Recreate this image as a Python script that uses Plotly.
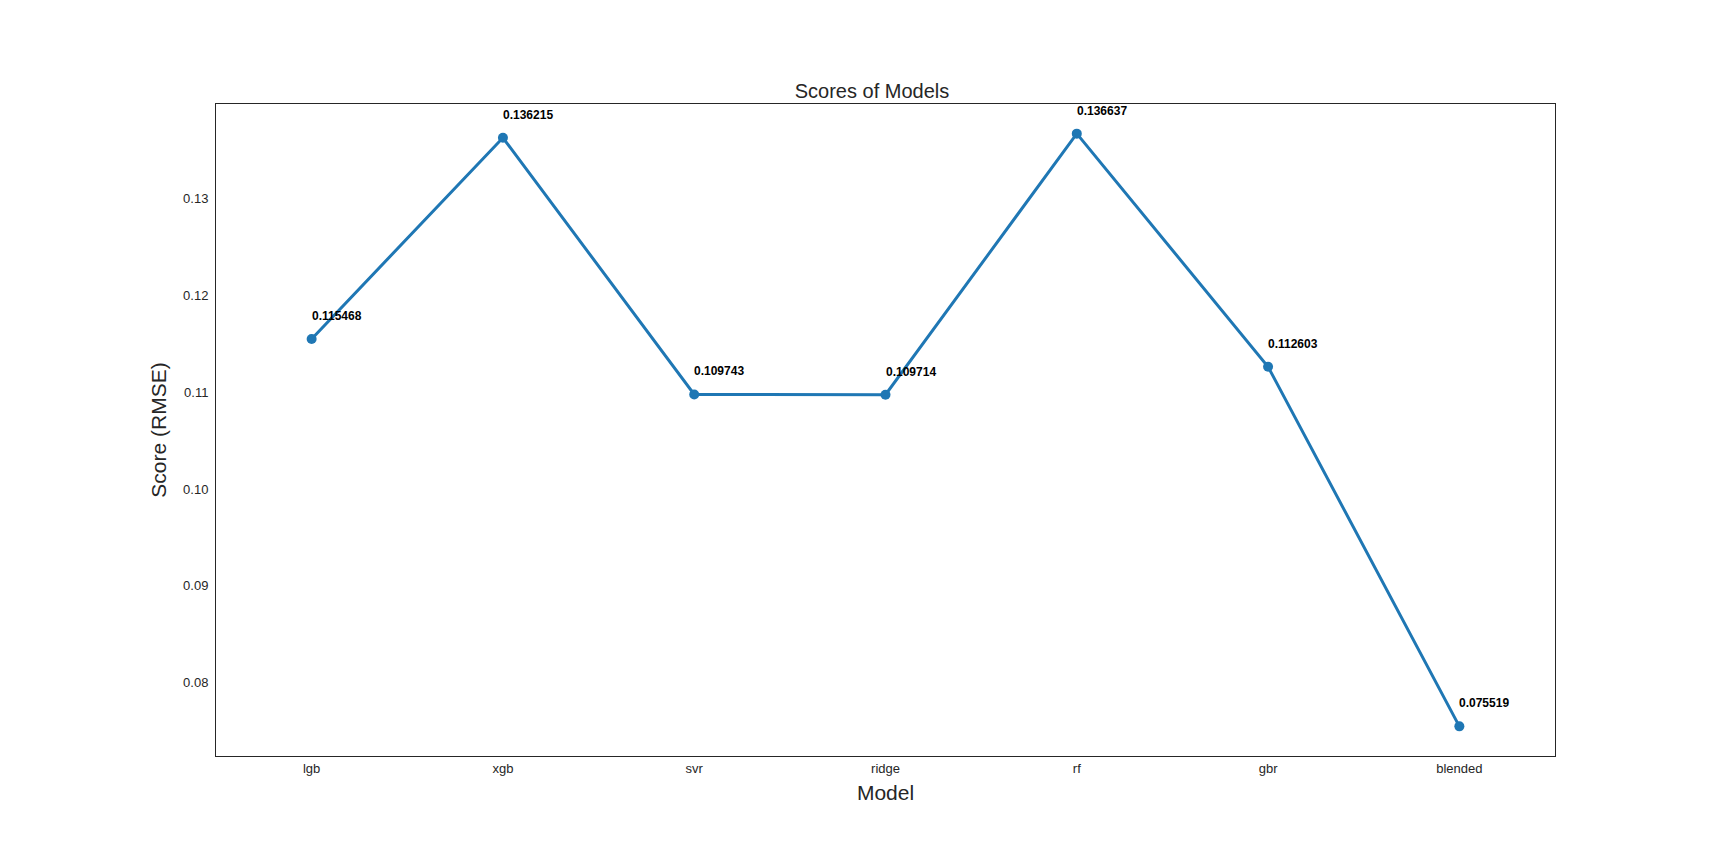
import plotly.graph_objects as go

models = ['lgb', 'xgb', 'svr', 'ridge', 'rf', 'gbr', 'blended']
scores = [0.115468, 0.136215, 0.109743, 0.109714, 0.136637, 0.112603, 0.075519]
y_ticks = [0.08, 0.09, 0.10, 0.11, 0.12, 0.13]

font_family = 'Liberation Sans, Arial, sans-serif'
dark = '#262626'

fig = go.Figure(
    go.Scatter(x=models, y=scores, mode='lines+markers',
               line=dict(color='#1f77b4', width=3),
               marker=dict(color='#1f77b4', size=10),
               showlegend=False)
)

# value labels above each point
for m, s in zip(models, scores):
    fig.add_annotation(x=m, y=s, text='<b>%.6f</b>' % s, showarrow=False,
                       xanchor='left', yanchor='middle', xshift=-2, yshift=23,
                       font=dict(family=font_family, size=12, color='black'))

fig.update_layout(
    width=1728, height=864,
    paper_bgcolor='white', plot_bgcolor='white',
    margin=dict(l=208, r=181, t=96, b=116),
    font=dict(family=font_family, color=dark),
    title=dict(text='Scores of Models', x=0.5, xanchor='center',
               y=1 - 83 / 864, yanchor='middle',
               font=dict(size=20, color=dark)),
)
fig.update_xaxes(
    title=dict(text='Model', font=dict(size=21, color=dark), standoff=10),
    range=[-0.5, len(models) - 0.5],
    showgrid=False, zeroline=False, ticks='',
    tickfont=dict(size=13, color=dark),
    showline=True, linecolor=dark, linewidth=1, mirror=True,
)
fig.update_yaxes(
    title=dict(text='Score (RMSE)', font=dict(size=21, color=dark), standoff=10),
    range=[min(scores) - 0.05 * (max(scores) - min(scores)),
           max(scores) + 0.05 * (max(scores) - min(scores))],
    tickvals=y_ticks, ticktext=['%.2f' % t for t in y_ticks],
    showgrid=False, zeroline=False, ticks='', ticklabelstandoff=4,
    tickfont=dict(size=13, color=dark),
    showline=True, linecolor=dark, linewidth=1, mirror=True,
)

fig.write_html("out.html")
